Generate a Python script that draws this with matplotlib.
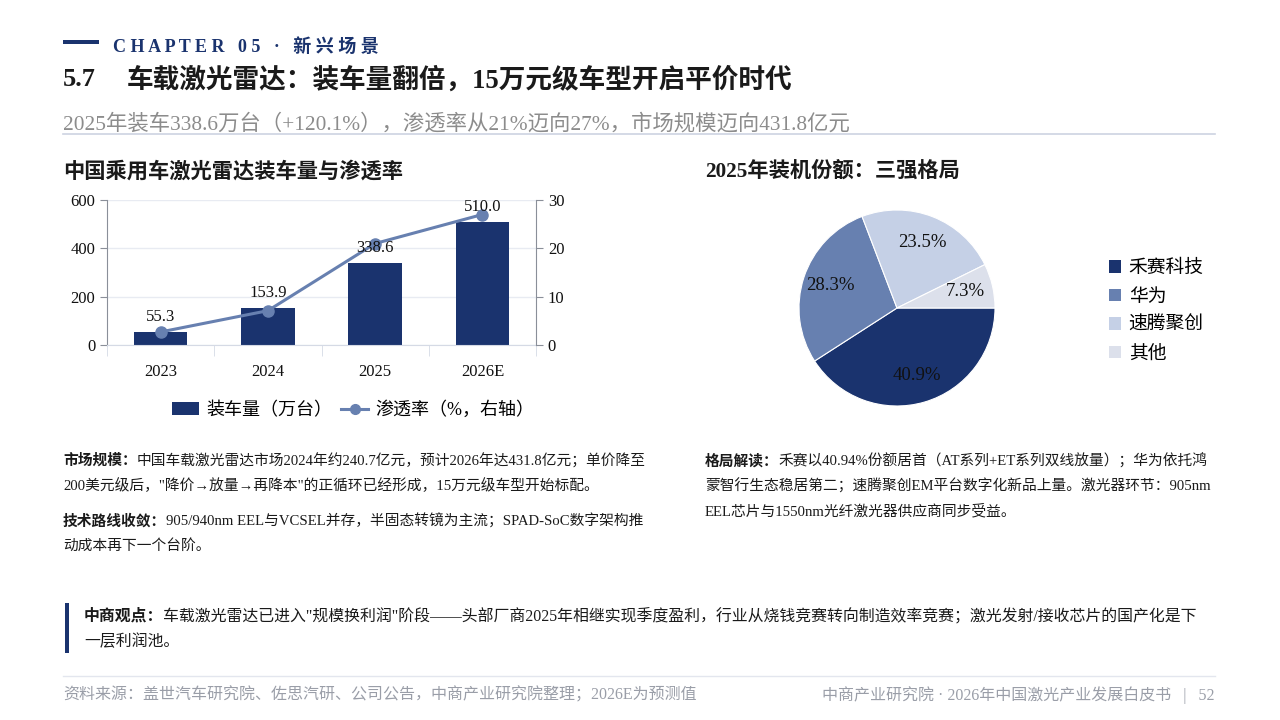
import matplotlib
matplotlib.use("Agg")
import matplotlib.pyplot as plt
from matplotlib.patches import Rectangle
from matplotlib.lines import Line2D
from matplotlib.patches import Patch

FAM = ['Liberation Serif', 'Noto Sans CJK SC', 'DejaVu Sans']
plt.rcParams['font.family'] = FAM

# data
years = ['2023', '2024', '2025', '2026E']
install = [55.3, 153.9, 338.6, 510.0]
penetration = [2.7, 7.1, 21.0, 27.0]
vendors = ['禾赛科技', '华为', '速腾聚创', '其他']
shares = [40.9, 28.3, 23.5, 7.3]

NAVY = '#1a336e'
MID = '#6780b0'
LIGHT = '#c5d0e6'
PALE = '#dce0eb'
GRAY = '#8a8f99'

W, H = 1280, 720
fig = plt.figure(figsize=(12.8, 7.2), dpi=100)
fig.patch.set_facecolor('white')
renderer = fig.canvas.get_renderer()


def fx(x):
    return x / W


def fy(y):
    return 1 - y / H


def txt(x, y, s, size, color='#1a1a1a', weight='normal', ha='left', va='center'):
    return fig.text(fx(x), fy(y), s, fontsize=size, color=color, weight=weight,
                    ha=ha, va=va, family=FAM)


def rich(x, y, parts, size, color='#1a1a1a'):
    for s, w in parts:
        t = txt(x, y, s, size, color=color, weight=w)
        x += t.get_window_extent(renderer).width


def rect(x, y, w, h, color):
    fig.add_artist(Rectangle((fx(x), fy(y + h)), w / W, h / H,
                             transform=fig.transFigure, color=color, lw=0))


# header
rect(63, 40, 36, 4, NAVY)
txt(113, 47, 'C H A P T E R   0 5   ·   新 兴 场 景', 13, color=NAVY, weight='bold')
txt(63, 80, '5.7', 19, weight='bold')
txt(127, 80, '车载激光雷达：装车量翻倍，15万元级车型开启平价时代', 19.2, weight='bold')
txt(63, 124, '2025年装车338.6万台（+120.1%），渗透率从21%迈向27%，市场规模迈向431.8亿元', 15.4, color='#8c8c8c')
fig.add_artist(Line2D([fx(63), fx(1215)], [fy(134), fy(134)], transform=fig.transFigure,
                      color='#cdd3e2', lw=1.2))

txt(63, 172, '中国乘用车激光雷达装车量与渗透率', 15.3, weight='bold')
txt(705, 172, '2025年装机份额：三强格局', 15.3, weight='bold')

# bar + line chart
ax = fig.add_axes([fx(107), fy(345), (536 - 107) / W, 145 / H])
x = range(len(years))
bars = ax.bar(x, install, width=0.5, color=NAVY, zorder=2)
ax.set_xlim(-0.5, 3.5)
ax.set_ylim(0, 600)
ax.set_yticks([0, 200, 400, 600])
ax.set_xticks(list(x))
ax.set_xticklabels(years)
ax.set_xticks([-0.5, 0.5, 1.5, 2.5, 3.5], minor=True)
ax.tick_params(axis='x', which='major', length=0, pad=14, labelsize=12, labelcolor='#111111')
ax.tick_params(axis='x', which='minor', length=8, color='#d5dae5')
ax.tick_params(axis='y', length=5, color=GRAY, labelsize=12, labelcolor='#111111')
ax.grid(axis='y', color='#e8ebf2', lw=1, zorder=0)
for s in ['top', 'right']:
    ax.spines[s].set_visible(False)
ax.spines['left'].set_color(GRAY)
ax.spines['bottom'].set_color('#d5dae5')

ax2 = ax.twinx()
ax2.plot(x, penetration, color=MID, lw=2.2, marker='o', markersize=8, zorder=3)
ax2.set_ylim(0, 30)
ax2.set_yticks([0, 10, 20, 30])
ax2.tick_params(axis='y', length=5, color=GRAY, labelsize=12, labelcolor='#111111')
for s in ['top', 'left', 'bottom']:
    ax2.spines[s].set_visible(False)
ax2.spines['right'].set_color(GRAY)
# value labels above the bars, drawn over the line
for i, v in enumerate(install):
    ax2.annotate(f'{v:.1f}', (i, v), xycoords=ax.transData, xytext=(0, 5),
                 textcoords='offset points', ha='center', va='bottom',
                 fontsize=12, color='#111111', zorder=5)

h1 = Patch(facecolor=NAVY, label='装车量（万台）')
h2 = Line2D([], [], color=MID, lw=2.2, marker='o', markersize=7, label='渗透率（%，右轴）')
fig.legend(handles=[h1, h2], loc='center', bbox_to_anchor=(fx(353), fy(410)), ncol=2,
           frameon=False, fontsize=13, handlelength=1.5, handletextpad=0.4, columnspacing=0.5)

# pie chart
r = 98
axp = fig.add_axes([fx(897 - r), fy(308 + r), 2 * r / W, 2 * r / H])
wedges, _, autotexts = axp.pie(shares, colors=[NAVY, MID, LIGHT, PALE], startangle=0,
                               counterclock=False, autopct='%.1f%%', pctdistance=0.72,
                               wedgeprops=dict(edgecolor='white', linewidth=0.8),
                               textprops=dict(fontsize=13.5, color='#111111'))
axp.set_xlim(-1, 1)
axp.set_ylim(-1, 1)
axp.set_aspect('equal')
axp.axis('off')
fig.legend(handles=[Patch(facecolor=c, label=v) for c, v in zip([NAVY, MID, LIGHT, PALE], vendors)],
           loc='upper left', bbox_to_anchor=(fx(1109), fy(260)), frameon=False, fontsize=13.5,
           handlelength=0.65, handleheight=0.65, handletextpad=0.4, labelspacing=0.6,
           borderpad=0, borderaxespad=0)

# text blocks
BODY = 10.6
rich(63, 461, [('市场规模：', 'bold'),
               ('中国车载激光雷达市场2024年约240.7亿元，预计2026年达431.8亿元；单价降至', 'normal')], BODY)
txt(63, 486, '200美元级后，"降价→放量→再降本"的正循环已经形成，15万元级车型开始标配。', BODY)
rich(63, 521, [('技术路线收敛：', 'bold'),
               ('905/940nm EEL与VCSEL并存，半固态转镜为主流；SPAD-SoC数字架构推', 'normal')], BODY)
txt(63, 546, '动成本再下一个台阶。', BODY)

rich(705, 461, [('格局解读：', 'bold'),
                ('禾赛以40.94%份额居首（AT系列+ET系列双线放量）；华为依托鸿', 'normal')], BODY)
txt(705, 486, '蒙智行生态稳居第二；速腾聚创EM平台数字化新品上量。激光器环节：905nm', BODY)
txt(705, 511, 'EEL芯片与1550nm光纤激光器供应商同步受益。', BODY)

# viewpoint box
rect(65, 603, 4, 50, NAVY)
rich(84, 617, [('中商观点：', 'bold'),
               ('车载激光雷达已进入"规模换利润"阶段——头部厂商2025年相继实现季度盈利，行业从烧钱竞赛转向制造效率竞赛；激光发射/接收芯片的国产化是下', 'normal')], 11.45)
txt(84, 642, '一层利润池。', 11.45)

# footer
fig.add_artist(Line2D([fx(63), fx(1215)], [fy(676), fy(676)], transform=fig.transFigure,
                      color='#e3e6ee', lw=1))
txt(63, 695, '资料来源：盖世汽车研究院、佐思汽研、公司公告，中商产业研究院整理；2026E为预测值', 11.5, color='#9a9ea8')
txt(1215, 695, '中商产业研究院 · 2026年中国激光产业发展白皮书   |   52', 11.5, color='#9a9ea8', ha='right')

fig.savefig('out.png', dpi=100)
